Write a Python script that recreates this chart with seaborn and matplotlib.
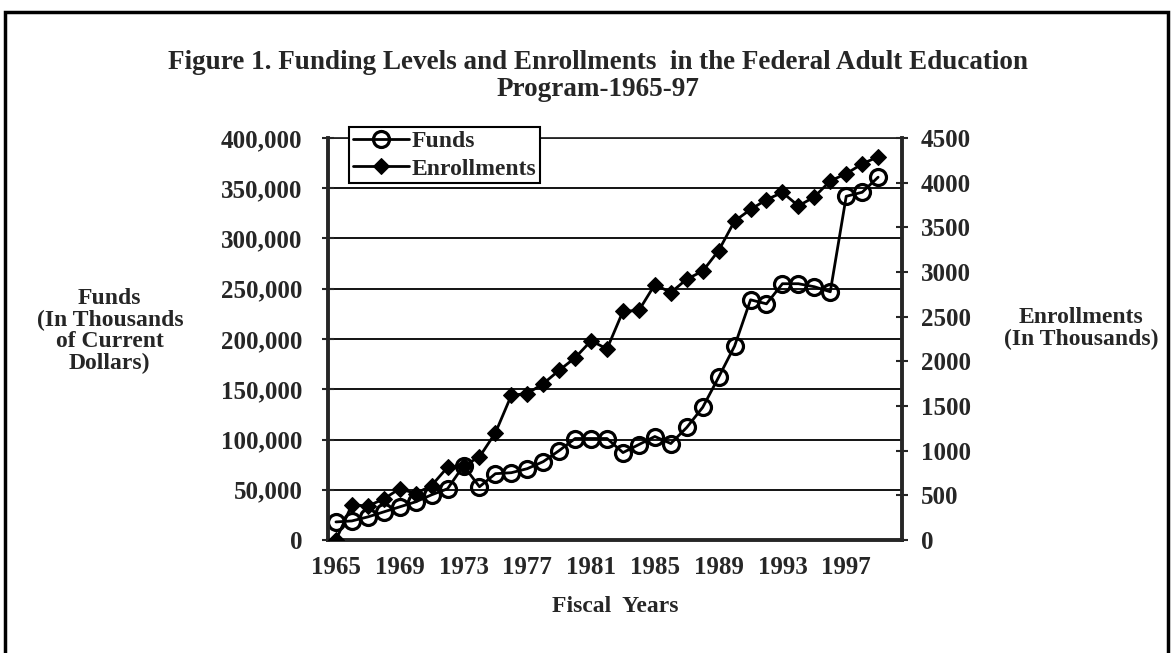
import matplotlib
matplotlib.use('Agg')
import matplotlib.pyplot as plt
import seaborn as sns
import pandas as pd
from matplotlib.patches import Rectangle
from matplotlib.ticker import FuncFormatter

# Fiscal years plotted (data ends 1999, axis has one empty slot after it)
years = list(range(1965, 2000))
axis_years = list(range(1965, 2001))
label_years = [1965, 1969, 1973, 1977, 1981, 1985, 1989, 1993, 1997]

# Funds, in thousands of current dollars
funds = [18000, 19000, 23000, 28000, 33000, 38000, 45000, 51000, 74000, 53000,
         66000, 67000, 71000, 78000, 89000, 101000, 101000, 101000, 87000, 95000,
         103000, 96000, 112000, 132000, 162000, 193000, 239000, 235000, 255000, 255000,
         252000, 247000, 342000, 346000, 361000]

# Enrollments, in thousands
enrollments = [0, 395, 380, 460, 575, 520, 610, 815, 830, 930,
               1200, 1620, 1640, 1750, 1900, 2040, 2230, 2140, 2560, 2570,
               2860, 2770, 2920, 3010, 3240, 3570, 3700, 3810, 3890, 3740,
               3840, 4020, 4100, 4210, 4290]

funds_ticks = [0, 50000, 100000, 150000, 200000, 250000, 300000, 350000, 400000]
enroll_ticks = [0, 500, 1000, 1500, 2000, 2500, 3000, 3500, 4000, 4500]

df = pd.DataFrame({'Year': years, 'Funds': funds, 'Enrollments': enrollments})

sns.set_style('white')
plt.rcParams['font.family'] = ['Liberation Serif', 'DejaVu Serif']
plt.rcParams['font.weight'] = 'bold'

fig, ax = plt.subplots(figsize=(11.73, 6.53), dpi=100)
fig.subplots_adjust(left=0.2796, right=0.769, top=0.7887, bottom=0.173)
ax2 = ax.twinx()

sns.lineplot(data=df, x='Year', y='Funds', ax=ax, color='black', linewidth=2,
             marker='o', markersize=11.5, markerfacecolor='none',
             markeredgecolor='black', markeredgewidth=2.3, legend=False)
sns.lineplot(data=df, x='Year', y='Enrollments', ax=ax2, color='black', linewidth=2,
             marker='D', markersize=8, markerfacecolor='black',
             markeredgecolor='black', legend=False)

# x axis: one slot per year, labels every 4 years
ax.set_xlim(axis_years[0] - 0.5, axis_years[-1] + 0.5)
ax.set_xticks(label_years)
ax.set_xticklabels([str(y) for y in label_years], fontsize=18)
ax.set_xticks(axis_years, minor=True)
ax.tick_params(axis='x', which='both', direction='inout', length=7, width=1.5, pad=8)

# left axis
ax.set_ylim(0, 400000)
ax.set_yticks(funds_ticks)
ax.yaxis.set_major_formatter(FuncFormatter(lambda v, p: f'{v:,.0f}'))
ax.tick_params(axis='y', direction='inout', length=9, width=1.5, labelsize=18, pad=14)
ax.yaxis.grid(True, color='black', linewidth=1.3)
ax.xaxis.grid(False)

# right axis
ax2.set_ylim(0, 4500)
ax2.set_yticks(enroll_ticks)
ax2.tick_params(axis='y', direction='inout', length=9, width=1.5, labelsize=18, pad=9)

for side in ['left', 'bottom']:
    ax.spines[side].set_linewidth(2.8)
ax.spines['top'].set_linewidth(1.3)
ax.spines['right'].set_visible(False)
for side in ['left', 'bottom', 'top']:
    ax2.spines[side].set_visible(False)
ax2.spines['right'].set_linewidth(2.8)

ax.set_ylabel('')
ax2.set_ylabel('')
ax.set_xlabel('Fiscal  Years', fontsize=17, fontweight='bold', labelpad=12)

ax.text(-0.38, 0.52, 'Funds\n(In Thousands\nof Current\nDollars)', transform=ax.transAxes,
        ha='center', va='center', fontsize=17, linespacing=1.05)
ax2.text(1.312, 0.527, 'Enrollments\n(In Thousands)', transform=ax2.transAxes,
         ha='center', va='center', fontsize=17, linespacing=1.05)

handles = [ax.get_lines()[0], ax2.get_lines()[0]]
leg = ax2.legend(handles, ['Funds', 'Enrollments'], loc='upper left',
                 bbox_to_anchor=(0.037, 1.027), frameon=True, fancybox=False,
                 edgecolor='black', framealpha=1, fontsize=17, handlelength=2.4,
                 borderpad=0.15, labelspacing=0.25, handletextpad=0.1, borderaxespad=0)
leg.get_frame().set_linewidth(1.5)

fig.text(0.51, 0.884, 'Figure 1. Funding Levels and Enrollments  in the Federal Adult Education\nProgram-1965-97',
         ha='center', va='center', fontsize=19.5, fontweight='bold', linespacing=1.1)

# outer border of the figure
fig.add_artist(Rectangle((0.004, -0.05), 0.992, 1.032, transform=fig.transFigure,
                         fill=False, linewidth=2.5, edgecolor='black'))

fig.savefig('out.png', dpi=100)
